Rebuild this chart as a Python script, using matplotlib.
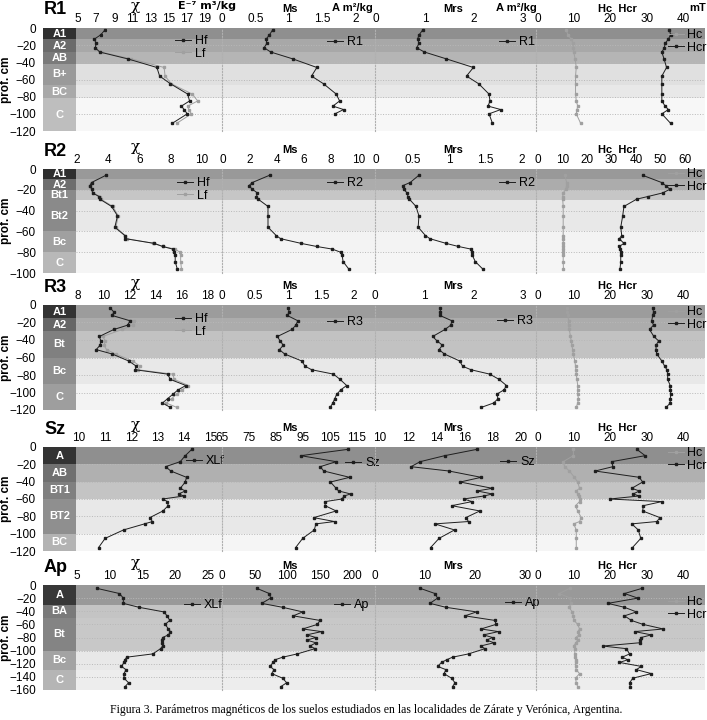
import matplotlib
matplotlib.use("Agg")
import matplotlib.pyplot as plt
from matplotlib.lines import Line2D

plt.rcParams['font.family'] = ['Liberation Sans Narrow', 'Liberation Sans', 'DejaVu Sans']

# ---- datos (profundidad en cm) ----
# R1
r1_depth = [-2, -8, -13, -18, -23, -28, -36, -46, -56, -65, -77, -85, -91, -95, -100, -111]
r1_hf = [8.0, 7.5, 6.8, 7.0, 6.9, 7.4, 10.5, 13.7, 14.0, 15.2, 17.1, 17.3, 16.4, 16.7, 17.05, 15.4]
r1_lf = [8.1, 7.6, 6.9, 7.1, 7.0, 7.6, 10.9, 14.5, 14.6, 15.3, 17.6, 18.2, 17.1, 17.2, 17.5, 15.9]
r1_ms = [0.76, 0.71, 0.66, 0.67, 0.63, 0.73, 1.06, 1.42, 1.34, 1.52, 1.71, 1.76, 1.66, 1.82, 1.69]
r1_mrs = [0.96, 0.88, 0.85, 0.88, 0.83, 0.99, 1.44, 1.99, 1.85, 2.10, 2.31, 2.33, 2.29, 2.55, 2.31, 2.38]
r1_hc = [7.8, 8.3, 9.2, 9.7, 9.8, 9.9, 10.3, 10.6, 10.4, 10.4, 10.4, 10.6, 11.0, 10.8, 10.6, 11.8]
r1_hcr = [36.3, 36.6, 36.0, 35.1, 34.9, 34.2, 34.8, 35.5, 34.2, 34.2, 34.2, 34.2, 35.1, 36.0, 34.2, 36.6]

# R2
r2_depth = [-6, -13, -16, -19.5, -23, -26.5, -29, -36, -45, -56, -64, -67, -71.5, -74.5, -77, -80, -83, -89, -96]
r2_hf = [3.86, 2.94, 2.83, 2.95, 3.0, 3.42, 3.47, 4.22, 4.6, 4.43, 5.07, 5.1, 6.95, 7.5, 8.13, 8.24, 8.3, 8.3, 8.43]
r2_lf = [3.8, 2.9, 2.8, 2.95, 3.05, 3.5, 3.55, 4.3, 4.65, 4.5, 5.1, 5.2, 6.9, 7.5, 8.3, 8.6, 8.65, 8.65, 8.7]
r2_ms = [3.45, 2.17, 1.92, 2.17, 2.55, 2.48, 2.6, 3.33, 3.33, 3.33, 3.94, 4.26, 5.77, 6.93, 8.08, 8.69, 8.81, 8.88, 9.29]
r2_mrs = [0.59, 0.47, 0.37, 0.38, 0.43, 0.44, 0.46, 0.55, 0.59, 0.58, 0.68, 0.74, 0.96, 1.13, 1.30, 1.31, 1.32, 1.36, 1.46]
r2_hc = [11.0, 11.7, 11.7, 11.4, 10.3, 10.1, 10.1, 10.3, 10.3, 10.3, 10.3, 10.2, 10.4, 10.4, 10.4, 10.4, 10.3, 10.3, 10.4]
r2_hcr = [42.7, 50.5, 52.2, 53.9, 50.9, 44.8, 40.3, 35.1, 34.6, 33.8, 34.2, 33.2, 35.1, 33.2, 33.5, 33.8, 33.8, 33.8, 33.5]

# R3
r3_depth = [-3, -8, -12, -18, -23, -28, -36, -41, -46, -51, -56, -64, -70, -74, -79, -85, -92, -97, -102, -107, -112, -117]
r3_hf = [10.46, 10.76, 10.64, 12.0, 11.83, 10.76, 9.64, 9.76, 9.7, 9.4, 10.64, 11.9, 12.5, 12.4, 14.9, 15.1, 16.3, 15.7, 15.3, 14.9, 14.5, 15.1]
r3_lf = [10.5, 10.9, 10.7, 12.3, 12.2, 11.4, 9.9, 10.1, 10.0, 10.2, 10.9, 12.2, 12.8, 12.6, 15.3, 15.4, 16.5, 16.0, 15.6, 15.2, 14.8, 15.6]
r3_ms = [1.0, 1.02, 0.99, 1.15, 1.12, 1.06, 0.84, 0.88, 0.93, 0.87, 0.95, 1.21, 1.26, 1.36, 1.69, 1.79, 1.89, 1.80, 1.74, 1.71, 1.68, 1.64]
r3_mrs = [1.32, 1.33, 1.32, 1.56, 1.54, 1.42, 1.17, 1.26, 1.37, 1.30, 1.41, 1.72, 1.78, 1.95, 2.33, 2.52, 2.67, 2.62, 2.47, 2.50, 2.41, 2.16]
r3_hc = [8.1, 8.1, 8.3, 8.5, 8.5, 8.7, 9.0, 9.2, 9.4, 9.6, 9.8, 10.2, 10.4, 10.5, 10.6, 10.8, 11.0, 11.0, 11.0, 11.2, 11.0, 10.6]
r3_hcr = [31.7, 31.9, 31.7, 31.4, 31.9, 30.8, 32.0, 33.3, 32.6, 32.6, 32.8, 34.2, 35.0, 35.6, 35.8, 35.8, 36.5, 36.5, 36.7, 36.5, 36.5, 35.4]

# Sz
sz_depth = [-2.7, -10, -16.9, -22.7, -27.7, -35, -40.4, -47.7, -50.7, -54.2, -56.5, -60, -63, -67.7, -73.8, -81.5, -86, -88.7, -95.7, -105.4, -116]
sz_xlf = [14.3, 14.05, 13.86, 13.3, 13.5, 14.1, 14.05, 13.86, 14.05, 13.8, 14.0, 13.2, 13.37, 13.4, 13.2, 12.7, 12.8, 12.5, 11.7, 11.0, 10.75]
sz_ms = [111.7, 94.2, 107.3, 101.4, 102.7, 112.3, 105.2, 107.3, 108.2, 112.7, 110.2, 109.5, 103.2, 103.2, 107.3, 99.0, 106.7, 99.8, 99.2, 94.9, 92.3]
sz_mrs = [16.9, 14.6, 12.86, 12.2, 14.9, 17.2, 15.7, 18.0, 16.9, 18.0, 17.4, 15.95, 16.55, 15.1, 17.1, 16.1, 16.3, 13.9, 15.3, 14.2, 13.6]
sz_hc = [9.8, 9.8, 7.0, 7.4, 8.7, 10.1, 11.0, 11.5, 10.6, 11.0, 11.3, 11.5, 11.5, 10.4, 11.0, 12.0, 11.5, 9.9, 10.6, 10.6, 10.6]
sz_hcr = [27.3, 29.6, 20.4, 20.7, 15.8, 28.0, 28.9, 25.9, 28.0, 26.3, 28.0, 19.8, 34.2, 29.1, 28.9, 33.7, 32.8, 25.9, 27.7, 28.4, 26.1]

# Ap
ap_depth = [-5, -13, -20, -28, -34, -41, -47, -54, -60, -67, -71, -76, -80, -84, -88, -93, -97, -105, -110, -114, -118, -124, -129, -135, -142, -149, -155]
ap_xlf = [8.0, 11.5, 12.1, 12.1, 14.5, 18.3, 18.8, 19.2, 18.5, 19.0, 19.3, 19.0, 18.1, 18.0, 18.0, 18.1, 17.8, 16.6, 12.6, 12.35, 12.2, 11.8, 12.5, 12.2, 12.2, 12.9, 12.35]
ap_ms = [53, 72.4, 74.4, 60.7, 92.8, 123.4, 109, 149.8, 146, 123.4, 152.4, 129.5, 143.7, 129.5, 143.7, 134.6, 142.2, 115.1, 92.8, 81, 78, 73.4, 79.5, 76, 92.8, 98.9, 89.7]
ap_mrs = [9.0, 12.0, 12.5, 11.0, 14.2, 20.3, 18.0, 24.0, 24.2, 21.2, 24.7, 21.7, 23.5, 22.3, 23.8, 21.1, 22.0, 18.7, 15.5, 14.3, 13.3, 12.5, 14.2, 13.8, 15.3, 16.0, 15.5]
ap_hc = [8.8, 5.9, 9.0, 9.2, 8.6, 9.5, 9.8, 10.0, 11.0, 11.5, 11.0, 11.3, 10.5, 11.0, 10.5, 9.9, 10.2, 10.2, 10.2, 10.4, 10.4, 10.4, 10.6, 11.5, 10.4, 10.6, 11.0]
ap_hcr = [28.8, 23.9, 27.6, 19.3, 23.9, 27.2, 23.9, 25.8, 29.0, 34.6, 26.7, 31.3, 28.5, 28.3, 28.1, 17.9, 24.4, 25.3, 23.3, 24.8, 22.5, 28.5, 27.2, 31.3, 26.2, 25.3, 25.5]

# horizontes
r1_hz = ['A1', 'A2', 'AB', 'B+', 'BC', 'C']
r1_hz_lim = [0, -13, -28, -42, -66, -82, -120]
r2_hz = ['A1', 'A2', 'Bt1', 'Bt2', 'Bc', 'C']
r2_hz_lim = [0, -10, -20, -30, -60, -80, -100]
r3_hz = ['A1', 'A2', 'Bt', 'Bc', 'C']
r3_hz_lim = [0, -15, -30, -60, -90, -120]
sz_hz = ['A', 'AB', 'BT1', 'BT2', 'BC']
sz_hz_lim = [0, -20, -40, -60, -100, -120]
ap_hz = ['A', 'BA', 'Bt', 'Bc', 'C']
ap_hz_lim = [0, -30, -50, -100, -130, -160]

# ---- figura ----
W, H = 707, 720
fig = plt.figure(figsize=(W / 100, H / 100), dpi=100)


def box(x0, y0, x1, y1):
    return [x0 / W, 1 - y1 / H, (x1 - x0) / W, (y1 - y0) / H]


def fpos(x, y):
    return (x / W, 1 - y / H)


PANELS = [(76, 222), (222, 375), (375, 536), (536, 705)]
BLACK = '#1e1e1e'
GREY = '#a0a0a0'
FS = 8


def plot_line(ax, x, d, col, z=3):
    ax.plot(x, d[:len(x)], color=col, lw=0.7, marker='s', ms=1.7, mec=col, mfc=col, zorder=z)


def mk(col):
    return Line2D([], [], color=col, lw=0.7, marker='s', ms=1.7)


def draw_row(name, top, bot, ymin, hz, hz_lim, hz_cols, band_cols, depth,
             chi_series, ms, mrs, hc, hcr, xlims, xticks, leg_pos):
    yhead = top - 19
    # columna de horizontes
    ah = fig.add_axes(box(43, top, 76, bot))
    for i, nm in enumerate(hz):
        ah.axhspan(hz_lim[i + 1], hz_lim[i], color=hz_cols[i], lw=0)
        ah.text(0.5, (hz_lim[i] + hz_lim[i + 1]) / 2, nm, ha='center', va='center',
                color='white', fontweight='bold', fontsize=FS, transform=ah.get_yaxis_transform())
    ah.set_ylim(ymin, 0)
    ah.set_xlim(0, 1)
    ah.set_xticks([])
    ah.set_yticks(range(0, ymin - 1, -20))
    ah.tick_params(axis='y', length=0, pad=5, labelsize=FS + 0.5)
    for s in ah.spines.values():
        s.set_visible(False)
    ah.set_ylabel('prof. cm', fontweight='bold', fontsize=FS + 0.5)
    ah.yaxis.set_label_coords(-0.95, 0.5)

    # fondo sombreado
    bg = fig.add_axes(box(76, top, 705, bot), zorder=0)
    for i in range(len(hz)):
        bg.axhspan(hz_lim[i + 1], hz_lim[i], color=band_cols[i], lw=0)
    bg.set_ylim(ymin, 0)
    bg.set_xlim(0, 1)
    bg.set_xticks([])
    bg.set_yticks(range(-20, ymin - 1, -20))
    bg.tick_params(length=0, labelleft=False)
    bg.grid(axis='y', color='#b8b8b8', ls=':', lw=0.7)
    for s in bg.spines.values():
        s.set_visible(False)

    fig.text(*fpos(44, yhead + 1), name, fontsize=13, fontweight='bold', ha='left', va='center')

    axes = []
    for j, (x0, x1) in enumerate(PANELS):
        ax = fig.add_axes(box(x0, top, x1, bot), zorder=1)
        ax.patch.set_alpha(0)
        ax.set_xlim(*xlims[j])
        ax.set_ylim(ymin, 0)
        ax.xaxis.tick_top()
        ax.set_xticks(xticks[j])
        ax.set_xticklabels([('%g' % t) for t in xticks[j]])
        ax.set_yticks([])
        ax.tick_params(axis='x', length=0, pad=2.5, labelsize=FS + 0.5)
        for s in ax.spines.values():
            s.set_visible(False)
        if j > 0:
            ax.spines['left'].set_visible(True)
            ax.spines['left'].set_linestyle(':')
            ax.spines['left'].set_color('#b0b0b0')
            ax.spines['left'].set_linewidth(0.8)
        axes.append(ax)
    a_chi, a_ms, a_mrs, a_h = axes

    hdl, lab = [], []
    for lbl, vals, col in chi_series:
        plot_line(a_chi, vals, depth, col, 3 if col == BLACK else 2)
        hdl.append(mk(col))
        lab.append(lbl)
    plot_line(a_ms, ms, depth, BLACK)
    plot_line(a_mrs, mrs, depth, BLACK)
    plot_line(a_h, hc, depth, GREY, 2)
    plot_line(a_h, hcr, depth, BLACK)

    lk = dict(frameon=False, fontsize=FS + 1, handlelength=1.3, handletextpad=0.3,
              borderpad=0, borderaxespad=0, labelspacing=0.05, bbox_transform=fig.transFigure)
    a_chi.legend(hdl, lab, loc='upper left', bbox_to_anchor=fpos(*leg_pos[0]), **lk)
    a_ms.legend([mk(BLACK)], [name], loc='upper left', bbox_to_anchor=fpos(*leg_pos[1]), **lk)
    a_mrs.legend([mk(BLACK)], [name], loc='upper left', bbox_to_anchor=fpos(*leg_pos[2]), **lk)
    a_h.legend([mk(GREY), mk(BLACK)], ['Hc', 'Hcr'], loc='upper right',
               bbox_to_anchor=fpos(*leg_pos[3]), **lk)

    # encabezados
    fig.text(*fpos(135, yhead - 3), 'χ', family='DejaVu Serif', fontsize=11, ha='center', va='center')
    fig.text(*fpos(290, yhead), 'Ms', fontsize=FS, fontweight='bold', ha='center', va='center')
    fig.text(*fpos(453, yhead), 'Mrs', fontsize=FS, fontweight='bold', ha='center', va='center')
    fig.text(*fpos(617, yhead), 'Hc  Hcr', fontsize=FS, fontweight='bold', ha='center', va='center')


H_LIM = (-0.5, 46.1)
H_TICKS = [0, 10, 20, 30, 40]

draw_row('R1', 28, 131, -120, r1_hz, r1_hz_lim,
         ['#303030', '#6b6b6b', '#7b7b7b', '#9a9a9a', '#a9a9a9', '#bebebe'],
         ['#8f8f8f', '#a8a8a8', '#b5b5b5', '#e0e0e0', '#e8e8e8', '#f7f7f7'],
         r1_depth, [('Hf', r1_hf, BLACK), ('Lf', r1_lf, GREY)], r1_ms, r1_mrs, r1_hc, r1_hcr,
         [(4.78, 20.88), (0, 2.29), (-0.02, 3.27), H_LIM],
         [[5, 7, 9, 11, 13, 15, 17, 19], [0, 0.5, 1, 1.5, 2], [0, 1, 2, 3], H_TICKS],
         [(175, 35), (327, 36), (499, 36), (707, 29)])

draw_row('R2', 169, 273, -100, r2_hz, r2_hz_lim,
         ['#2e2e2e', '#6e6e6e', '#8a8a8a', '#8a8a8a', '#a0a0a0', '#b8b8b8'],
         ['#999999', '#acacac', '#c6c6c6', '#e8e8e8', '#f3f3f3', '#f5f5f5'],
         r2_depth, [('Hf', r2_hf, BLACK), ('Lf', r2_lf, GREY)], r2_ms, r2_mrs, r2_hc, r2_hcr,
         [(1.94, 11.3), (-0.07, 11.24), (-0.01, 2.19), (-0.8, 68.2)],
         [[2, 4, 6, 8, 10], [0, 2, 4, 6, 8, 10], [0, 0.5, 1, 1.5, 2], [0, 10, 20, 30, 40, 50, 60]],
         [(177, 177), (327, 177), (499, 177), (707, 168)])

draw_row('R3', 305, 410, -120, r3_hz, r3_hz_lim,
         ['#333333', '#666666', '#808080', '#8e8e8e', '#9e9e9e'],
         ['#9c9c9c', '#acacac', '#c2c2c2', '#e8e8e8', '#f3f3f3'],
         r3_depth, [('Hf', r3_hf, BLACK), ('Lf', r3_lf, GREY)], r3_ms, r3_mrs, r3_hc, r3_hcr,
         [(7.85, 19.08), (0, 2.32), (0, 3.27), H_LIM],
         [[8, 10, 12, 14, 16, 18], [0, 0.5, 1, 1.5, 2], [0, 1, 2, 3], H_TICKS],
         [(175, 313), (327, 316), (497, 315), (707, 306)])

draw_row('Sz', 447, 551, -120, sz_hz, sz_hz_lim,
         ['#333333', '#707070', '#808080', '#8f8f8f', '#b3b3b3'],
         ['#8f8f8f', '#b0b0b0', '#c4c4c4', '#e8e8e8', '#f5f5f5'],
         sz_depth, [('XLf', sz_xlf, BLACK)], sz_ms, sz_mrs, sz_hc, sz_hcr,
         [(9.89, 15.45), (65, 121.7), (9.64, 21.1), H_LIM],
         [[10, 11, 12, 13, 14, 15], [65, 75, 85, 95, 105, 115], [10, 12, 14, 16, 18, 20], H_TICKS],
         [(186, 455), (345, 457), (500, 456), (707, 447)])

draw_row('Ap', 585, 690, -160, ap_hz, ap_hz_lim,
         ['#383838', '#7a7a7a', '#848484', '#a3a3a3', '#b5b5b5'],
         ['#999999', '#c4c4c4', '#c8c8c8', '#e8e8e8', '#ededed'],
         ap_depth, [('XLf', ap_xlf, BLACK)], ap_ms, ap_mrs, ap_hc, ap_hcr,
         [(4.85, 27.2), (0, 234), (0, 32.2), H_LIM],
         [[5, 10, 15, 20, 25], [0, 50, 100, 150, 200], [0, 10, 20, 30], H_TICKS],
         [(184, 599), (334, 599), (505, 597), (707, 596)])

# unidades (solo en la primera fila)
fig.text(*fpos(207, 6), 'E⁻⁷ m³/kg', fontsize=FS, fontweight='bold', ha='center', va='center',
         family=['Liberation Sans Narrow', 'DejaVu Sans'])
fig.text(*fpos(352, 8), 'A m²/kg', fontsize=FS, fontweight='bold', ha='center', va='center')
fig.text(*fpos(516, 8), 'A m²/kg', fontsize=FS, fontweight='bold', ha='center', va='center')
fig.text(*fpos(706, 8), 'mT', fontsize=FS, fontweight='bold', ha='right', va='center')

fig.text(*fpos(366, 710), 'Figura 3. Parámetros magnéticos de los suelos estudiados en las localidades '
         'de Zárate y Verónica, Argentina.', family='Liberation Serif', fontsize=8.5, ha='center', va='center')

fig.savefig('out.png', dpi=100)
